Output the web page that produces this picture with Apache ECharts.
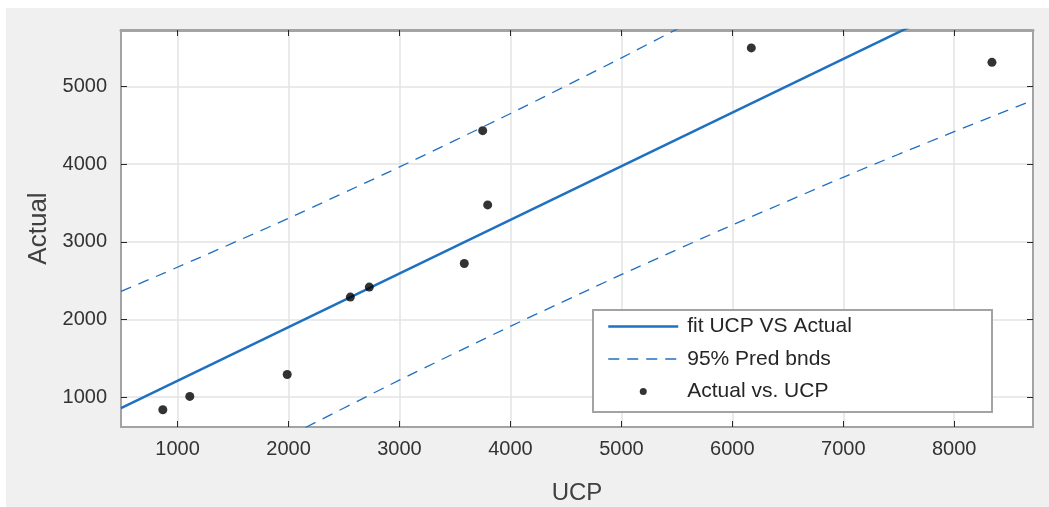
<!DOCTYPE html>
<html><head><meta charset="utf-8">
<script src="https://cdn.jsdelivr.net/npm/echarts@6/dist/echarts.min.js"></script>
<style>
html,body{margin:0;padding:0;background:#fff;}
#bg{position:absolute;left:6px;top:8px;width:1043px;height:499px;background:#f0f0f0;}
#chart{position:absolute;left:0;top:0;width:1049px;height:507px;}
</style></head><body>
<div id="bg"></div><div id="chart"></div>
<script>
// Observed points (UCP vs Actual)
const ucp    = [867, 1110, 1988, 2557, 2728, 3584, 3750, 3795, 6171, 8340];
const actual = [836, 1008, 1291, 2288, 2417, 2721, 4433, 3476, 5499, 5313];
// Fitted line (read at axis ends)
const fitX = [490, 8710];
const fitY = [856, 6539];
// 95% prediction bounds
const bndX   = [490, 1500, 2500, 3500, 4500, 5500, 6500, 7500, 8710];
const upperY = [2361, 2986, 3633, 4307, 5010, 5741, 6496, 7275, 8254];
const lowerY = [-649, 122, 859, 1567, 2246, 2899, 3526, 4129, 4824];
// Axis ticks
const xTicks = [1000, 2000, 3000, 4000, 5000, 6000, 7000, 8000];
const yTicks = [1000, 2000, 3000, 4000, 5000];

const FONT = 'Liberation Sans';
const BLUE = '#1f70c1';
const zip = (a, b) => a.map((v, i) => [v, b[i]]);

const axisLineStyle = {show: true, lineStyle: {color: '#a3a3a3', width: 2}};
const tickStyle = {show: true, inside: true, length: 6, lineStyle: {color: '#262626', width: 1}};
const labelStyle = {fontSize: 20, color: '#333333', fontFamily: FONT, formatter: v => String(v)};
const noDot = {color: 'rgba(0,0,0,0)', opacity: 0, borderWidth: 0};

const chart = echarts.init(document.getElementById('chart'), null, {renderer: 'canvas'});
chart.setOption({
  animation: false,
  textStyle: {fontFamily: FONT},
  grid: {left: 121, right: 16, top: 30, bottom: 80, show: true, backgroundColor: '#fff', borderWidth: 0,
         containLabel: false, outerBoundsMode: 'none'},
  xAxis: [{
    type: 'value', min: 490, max: 8710, position: 'bottom',
    axisLine: axisLineStyle,
    axisTick: Object.assign({customValues: xTicks}, tickStyle),
    axisLabel: Object.assign({customValues: xTicks, margin: 12}, labelStyle),
    splitLine: {show: true, lineStyle: {color: '#e3e3e3', width: 1.5}},
    name: 'UCP', nameLocation: 'middle', nameGap: 54,
    nameTextStyle: {fontSize: 24, color: '#404040', fontFamily: FONT}
  }, {
    type: 'value', min: 490, max: 8710, position: 'top',
    axisLine: {show: true, lineStyle: {color: '#a3a3a3', width: 3}},
    axisTick: Object.assign({customValues: xTicks}, tickStyle),
    axisLabel: {show: false},
    splitLine: {show: false}
  }],
  yAxis: [{
    type: 'value', min: 614, max: 5730, position: 'left',
    axisLine: axisLineStyle,
    axisTick: Object.assign({customValues: yTicks}, tickStyle),
    axisLabel: Object.assign({customValues: yTicks, margin: 14}, labelStyle),
    splitLine: {show: true, lineStyle: {color: '#e3e3e3', width: 1.5}},
    name: 'Actual', nameLocation: 'middle', nameGap: 60, nameRotate: 90,
    nameTextStyle: {fontSize: 26, color: '#404040', fontFamily: FONT}
  }, {
    type: 'value', min: 614, max: 5730, position: 'right',
    axisLine: axisLineStyle,
    axisTick: Object.assign({customValues: yTicks}, tickStyle),
    axisLabel: {show: false},
    splitLine: {show: false}
  }],
  graphic: [{
    type: 'rect', z: 1, left: 592, top: 309,
    shape: {width: 399, height: 102},
    style: {fill: '#fff', stroke: '#a3a3a3', lineWidth: 2}
  }],
  legend: {
    orient: 'vertical', left: 592, top: 309, z: 10,
    padding: [7, 10, 5, 15],
    itemWidth: 70, itemHeight: 7, itemGap: 11.5,
    textStyle: {fontSize: 21, color: '#262626', fontFamily: FONT, padding: [0, 0, 0, 4]},
    lineStyle: {width: 'inherit'},
    data: [
      {name: 'fit UCP VS Actual', itemStyle: noDot},
      {name: '95% Pred bnds', itemStyle: noDot},
      {name: 'Actual vs. UCP'}
    ]
  },
  series: [{
    name: 'fit UCP VS Actual', type: 'line', data: zip(fitX, fitY),
    symbol: 'none', lineStyle: {color: BLUE, width: 2.5}, itemStyle: {color: BLUE}, z: 3
  }, {
    name: '95% Pred bnds', type: 'line', data: zip(bndX, upperY), smooth: true,
    symbol: 'none', lineStyle: {color: BLUE, width: 1.3, type: [11, 8]}, itemStyle: {color: BLUE}, z: 3
  }, {
    name: '95% Pred bnds', type: 'line', data: zip(bndX, lowerY), smooth: true,
    symbol: 'none', lineStyle: {color: BLUE, width: 1.3, type: [11, 8]}, itemStyle: {color: BLUE}, z: 3
  }, {
    name: 'Actual vs. UCP', type: 'scatter', data: zip(ucp, actual),
    symbol: 'circle', symbolSize: 9, itemStyle: {color: '#000'}, z: 4
  }]
});
</script></body></html>
